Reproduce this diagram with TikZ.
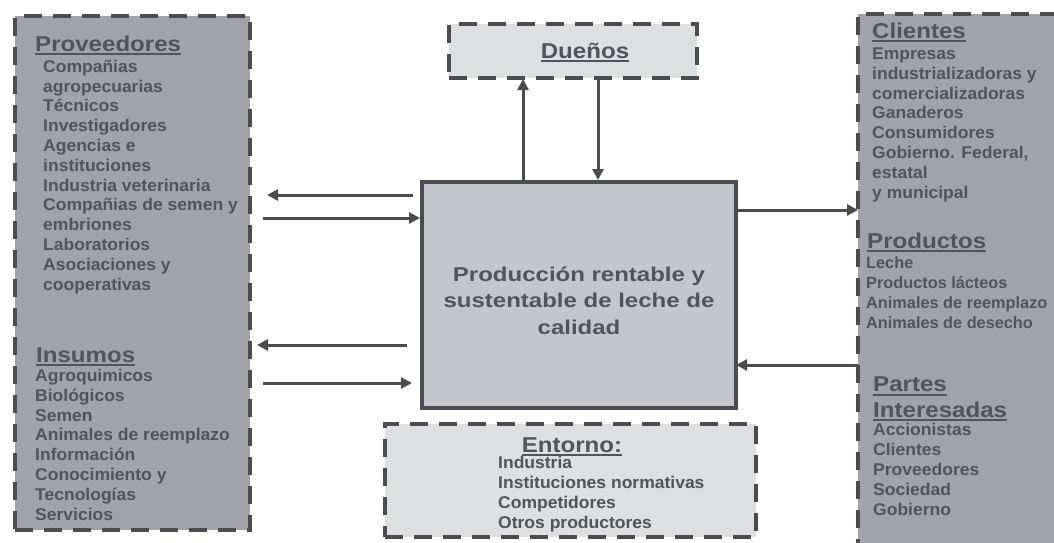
\documentclass[tikz,border=0pt]{standalone}
\usepackage{fontspec}
\setmainfont{Liberation Sans}
\newfontfamily\fuentelema{Liberation Sans}[FakeStretch=1.2]
\newfontfamily\fuentetitulo{Liberation Sans}[FakeStretch=1.12]
\newfontfamily\fuentelista{Liberation Sans}[FakeStretch=1.03]
\usetikzlibrary{arrows.meta}
\definecolor{bordegris}{HTML}{4B4B52}
\definecolor{fondoext}{HTML}{A1A2AA}
\definecolor{fondocentro}{HTML}{C5C6CB}
\definecolor{fondoclaro}{HTML}{DEDFE1}
\definecolor{texto}{HTML}{52535B}
\newsavebox{\cajatitulo}
\newcommand{\titulo}[1]{\leavevmode\sbox{\cajatitulo}{#1}\rlap{\rule[-4pt]{\wd\cajatitulo}{1.8pt}}\usebox{\cajatitulo}}
\begin{document}
\begin{tikzpicture}[x=1pt,y=-1pt]
	\tikzstyle{caja}=[draw=bordegris,line width=4pt,dash pattern=on 18pt off 11pt,inner sep=0pt,outer sep=0pt]
	\tikzstyle{exterior}=[caja,fill=fondoext]
	\tikzstyle{claro}=[caja,fill=fondoclaro]
	\tikzstyle{encabezado}=[text=texto,font=\fuentetitulo\fontsize{21.5}{25.5}\selectfont\bfseries,inner sep=0pt,anchor=base west,align=left]
	\tikzstyle{lista}=[text=texto,font=\fuentelista\fontsize{17}{19.8}\selectfont\bfseries,inner sep=0pt,anchor=base west,align=left]
	\tikzstyle{listaestrecha}=[lista,font=\fontsize{16.3}{19.8}\selectfont\bfseries]
	\tikzstyle{flecha}=[draw=bordegris,line width=3pt,-{Triangle[length=11pt,width=11pt]}]
	\useasboundingbox (0,0) rectangle (1054,542);
	\clip (0,0) rectangle (1054,542);
	\fill[white] (0,0) rectangle (1054,542);
	\begin{scope}
		% cajas
		\node [exterior,minimum width=235pt,minimum height=514pt] (izq) at (132.5,273) {};
		\node [exterior,minimum width=242pt,minimum height=586pt] (der) at (979,307) {};
		\node [claro,minimum width=248pt,minimum height=54pt] (duenos) at (573,51) {};
		\node [claro,minimum width=371pt,minimum height=113pt] (entorno) at (570.5,480.5) {};
		\node [draw=bordegris,line width=3.5pt,fill=fondocentro,minimum width=314pt,minimum height=226pt,inner sep=0pt,outer sep=0pt] (centro) at (579,295) {};
		% textos (anclados en la linea base de la ultima linea)
		\node [text=texto,font=\fuentelema\fontsize{20}{26.5}\selectfont\bfseries,align=center,inner sep=0pt,anchor=base] (lema) at (579,334) {Producción rentable y\\sustentable de leche de\\calidad};
		\node [encabezado,anchor=base] (tduenos) at (585,58) {\titulo{Dueños}};
		\node [encabezado] (tprov) at (35,51) {\titulo{Proveedores}};
		\node [lista] (lprov) at (43,290) {Compañias\\agropecuarias\\Técnicos\\Investigadores\\Agencias e\\instituciones\\Industria veterinaria\\Compañias de semen y\\embriones\\Laboratorios\\Asociaciones y\\cooperativas};
		\node [encabezado] (tinsumos) at (36,362) {\titulo{Insumos}};
		\node [lista] (linsumos) at (35,520) {Agroquimicos\\Biológicos\\Semen\\Animales de reemplazo\\Información\\Conocimiento y\\Tecnologías\\Servicios};
		\node [encabezado,anchor=base] (tentorno) at (572,452) {\titulo{Entorno:}};
		\node [lista] (lentorno) at (498,528) {Industria\\Instituciones normativas\\Competidores\\Otros productores};
		\node [encabezado] (tclientes) at (872,38) {\titulo{Clientes}};
		\node [lista] (lclientes) at (872,198) {Empresas\\industrializadoras y\\comercializadoras\\Ganaderos\\Consumidores\\Gobierno. Federal,\\estatal\\y municipal};
		\node [encabezado] (tproductos) at (867,248) {\titulo{Productos}};
		\node [listaestrecha] (lproductos) at (866,328) {Leche\\Productos lácteos\\Animales de reemplazo\\Animales de desecho};
		\node [encabezado] (tpartes) at (873,417) {\titulo{Partes}\\\titulo{Interesadas}};
		\node [lista] (lpartes) at (873,515) {Accionistas\\Clientes\\Proveedores\\Sociedad\\Gobierno};
		% flechas
		\path [flecha,shorten <=9pt,shorten >=17pt] (centro.west |- 0,195) -- (izq.east |- 0,195);
		\path [flecha,shorten <=13pt,shorten >=2pt] (izq.east |- 0,218) -- (centro.west |- 0,218);
		\path [flecha,shorten <=15pt,shorten >=7pt] (centro.west |- 0,345) -- (izq.east |- 0,345);
		\path [flecha,shorten <=13pt,shorten >=10pt] (izq.east |- 0,383) -- (centro.west |- 0,383);
		\path [flecha,shorten >=1pt] (centro.north -| 523,0) -- (duenos.south -| 523,0);
		\path [flecha,shorten >=2pt] (duenos.south -| 598,0) -- (centro.north -| 598,0);
		\path [flecha] (centro.east |- 0,210) -- (der.west |- 0,210);
		\path [flecha] (der.west |- 0,365) -- (centro.east |- 0,365);
	\end{scope}
\end{tikzpicture}
\end{document}
